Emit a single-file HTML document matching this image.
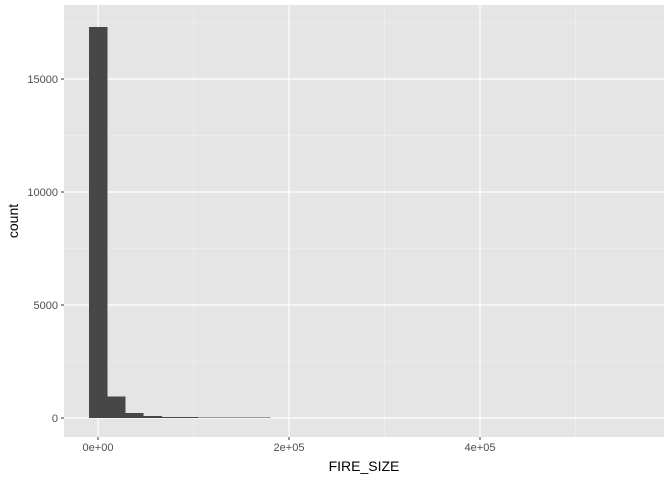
<!DOCTYPE html>
<html><head><meta charset="utf-8"><style>
body{margin:0;background:#fff;}
text{font-family:"Liberation Sans",Arial,sans-serif;}
</style></head><body>
<svg id="chart" width="672" height="480"></svg>
<script>
const binCenters = [0,19000,38000,57000,76000,95000,114000,133000,152000,171000,190000,209000,228000,247000,266000,285000,304000,323000,342000,361000,380000,399000,418000,437000,456000,475000,494000,513000,532000,551000];
const counts = [17300,950,230,90,50,35,25,20,15,12,10,8,6,5,4,3,3,2,2,1,1,1,1,1,0,1,1,0,0,1];
const xTicks = [0,200000,400000];
const xTickLabels = ["0e+00","2e+05","4e+05"];
const xMinor = [100000,300000,500000];
const yTicks = [0,5000,10000,15000];
const yMinor = [2500,7500,12500,17500];
const binWidth = 19000;

const NS="http://www.w3.org/2000/svg";
const svg=document.getElementById('chart');
const P={l:64,r:664,t:5,b:437};
const X=v=>98+v*(95.5/100000);
const Y=v=>418-v*(339/15000);
function el(t,a,p){const e=document.createElementNS(NS,t);for(const k in a)e.setAttribute(k,a[k]);(p||svg).appendChild(e);return e;}

const panel=el('rect',{x:P.l,y:P.t,width:P.r-P.l,height:P.b-P.t,fill:'#e5e5e5'});


xMinor.forEach(v=>{const g=el('line',{x1:X(v),x2:X(v),y1:P.t,y2:P.b,stroke:'#f2f2f2','stroke-width':0.6});

});
yMinor.forEach(v=>{const g=el('line',{x1:P.l,x2:P.r,y1:Y(v),y2:Y(v),stroke:'#f2f2f2','stroke-width':0.6});

});
xTicks.forEach(v=>{const g=el('line',{x1:X(v),x2:X(v),y1:P.t,y2:P.b,stroke:'#fff','stroke-width':1.2});

});
yTicks.forEach(v=>{const g=el('line',{x1:P.l,x2:P.r,y1:Y(v),y2:Y(v),stroke:'#fff','stroke-width':1.2});

});

counts.forEach((c,i)=>{
  const x0=X(binCenters[i]-binWidth/2),x1=X(binCenters[i]+binWidth/2);
  const b=el('rect',{x:x0,y:Y(c),width:x1-x0+0.3,height:Y(0)-Y(c),fill:'#474747','shape-rendering':'crispEdges'});
  
  
});

yTicks.forEach(v=>{
  const t=el('line',{x1:P.l-3,x2:P.l,y1:Y(v),y2:Y(v),stroke:'#333','stroke-width':1});
  
  
  const l=el('text',{x:P.l-6,y:Y(v)+4,'text-anchor':'end','font-size':11,fill:'#4d4d4d'});
  l.textContent=String(v);
  
  
});
xTicks.forEach((v,i)=>{
  const t=el('line',{x1:X(v),x2:X(v),y1:P.b,y2:P.b+3,stroke:'#333','stroke-width':1});
  
  
  const l=el('text',{x:X(v),y:P.b+14,'text-anchor':'middle','font-size':11,fill:'#4d4d4d'});
  l.textContent=xTickLabels[i];
  
  
});
const xt=el('text',{x:(P.l+P.r)/2,y:471,'text-anchor':'middle','font-size':14,fill:'#000'});
xt.textContent='FIRE_SIZE';


const yt=el('text',{x:0,y:0,'text-anchor':'middle','font-size':14,fill:'#000',transform:'translate(18,'+((P.t+P.b)/2)+') rotate(-90)'});
yt.textContent='count';


</script>
</body></html>
